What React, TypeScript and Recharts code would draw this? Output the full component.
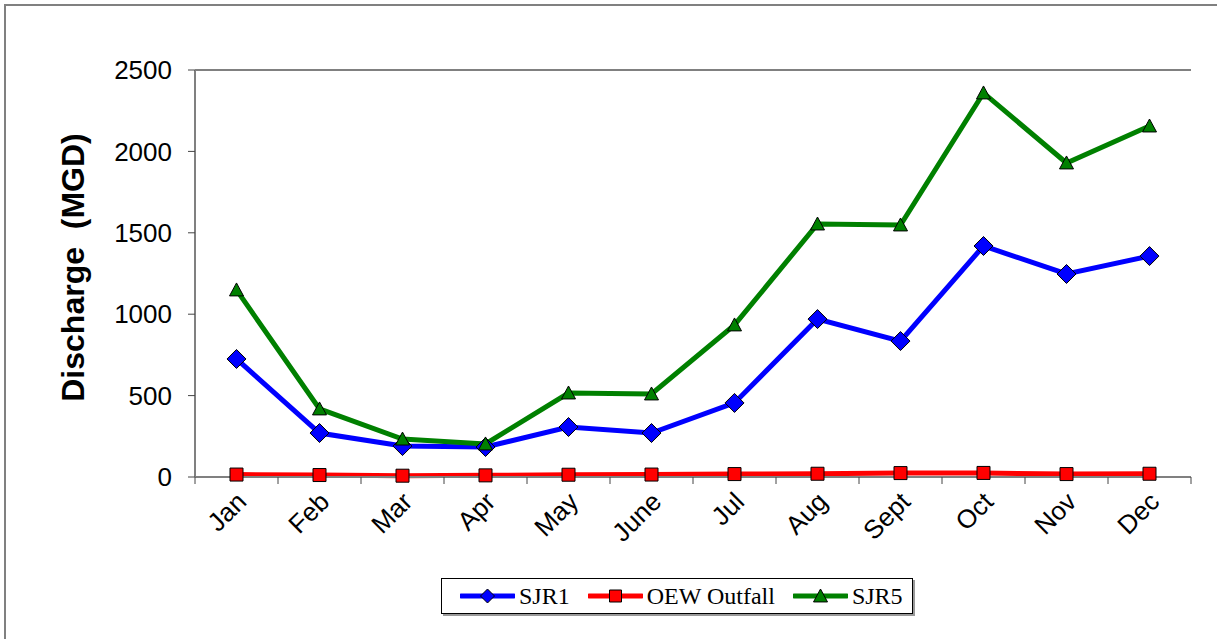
import React from "react";
import { LineChart, Line, XAxis, YAxis, CartesianGrid, ReferenceLine, Legend } from "recharts";

const months = ["Jan", "Feb", "Mar", "Apr", "May", "June", "Jul", "Aug", "Sept", "Oct", "Nov", "Dec"];
const sjr1 = [725, 270, 190, 184, 307, 270, 455, 970, 835, 1419, 1247, 1357];
const oewOutfall = [15, 12, 8, 10, 14, 15, 18, 20, 24, 25, 18, 20];
const sjr5 = [1149, 418, 233, 203, 516, 510, 934, 1554, 1548, 2359, 1929, 2156];
const yTicks = [0, 500, 1000, 1500, 2000, 2500];

const data = months.map((m, i) => ({ month: m, sjr1: sjr1[i], oew: oewOutfall[i], sjr5: sjr5[i] }));

const W = 1217;
const H = 639;
const PLOT_LEFT = 195;
const PLOT_RIGHT = 1191;
const PLOT_TOP = 70;
const PLOT_BOTTOM = 477;
const HALF_BAND = (PLOT_RIGHT - PLOT_LEFT) / months.length / 2;

const BLUE = "#0000FF";
const RED = "#FF0000";
const GREEN = "#008000";
const GRAY = "#808080";
const SANS = "'Liberation Sans', Arial, sans-serif";
const SERIF = "'Liberation Serif', 'Times New Roman', serif";

function diamond(cx: number, cy: number, r: number) {
  return `M${cx},${cy - r}L${cx + r},${cy}L${cx},${cy + r}L${cx - r},${cy}Z`;
}
function square(cx: number, cy: number, r: number) {
  return `M${cx - r},${cy - r}H${cx + r}V${cy + r}H${cx - r}Z`;
}
function triangle(cx: number, cy: number, r: number) {
  return `M${cx},${cy - r}L${cx + r},${cy + r * 0.85}L${cx - r},${cy + r * 0.85}Z`;
}

const DiamondDot = (p: any) => (
  <path key={`d-${p.index}`} d={diamond(p.cx, p.cy, 9.5)} fill={BLUE} stroke="#000" strokeWidth={1} />
);
const SquareDot = (p: any) => (
  <path key={`s-${p.index}`} d={square(p.cx, p.cy, 6.5)} fill={RED} stroke="#000" strokeWidth={1} />
);
const TriangleDot = (p: any) => (
  <path key={`t-${p.index}`} d={triangle(p.cx, p.cy, 7)} fill={GREEN} stroke="#000" strokeWidth={1} />
);

function MonthTick(props: any) {
  const { x, y, payload, index } = props;
  const tx = x + 5;
  const ty = y + 20;
  return (
    <g>
      {index === 0 && <line x1={x - HALF_BAND} x2={x - HALF_BAND} y1={y} y2={y + 7} stroke="#444" />}
      <line x1={x + HALF_BAND} x2={x + HALF_BAND} y1={y} y2={y + 7} stroke="#444" />
      <text
        x={tx}
        y={ty}
        transform={`rotate(-45, ${tx}, ${ty})`}
        textAnchor="end"
        dominantBaseline="central"
        fontFamily={SANS}
        fontSize={26}
        fill="#000"
      >
        {payload.value}
      </text>
    </g>
  );
}

function YTitle(props: any) {
  const vb = props.viewBox || {};
  const cx = 73;
  const cy = (vb.y ?? PLOT_TOP) + (vb.height ?? PLOT_BOTTOM - PLOT_TOP) / 2 - 6;
  return (
    <text
      x={cx}
      y={cy}
      transform={`rotate(-90, ${cx}, ${cy})`}
      textAnchor="middle"
      dominantBaseline="central"
      fontFamily={SANS}
      fontWeight="bold"
      fontSize={32}
      fill="#000"
      style={{ whiteSpace: "pre" }}
    >
      {"Discharge  (MGD)"}
    </text>
  );
}

const legendItems = [
  { label: "SJR1", color: BLUE, shape: "diamond" },
  { label: "OEW Outfall", color: RED, shape: "square" },
  { label: "SJR5", color: GREEN, shape: "triangle" },
];

function LegendBox() {
  return (
    <div
      style={{
        width: 472,
        height: 36,
        boxSizing: "border-box",
        border: "1px solid #000",
        boxShadow: "2px 2px 0 #999",
        background: "#fff",
        display: "flex",
        alignItems: "center",
        paddingLeft: 18,
        whiteSpace: "nowrap",
      }}
    >
      {legendItems.map((it) => (
        <div key={it.label} style={{ display: "flex", alignItems: "center", marginRight: 18, flexShrink: 0 }}>
          <svg width={55} height={24}>
            <line x1={1} x2={54} y1={12} y2={12} stroke={it.color} strokeWidth={5} strokeLinecap="round" />
            {it.shape === "diamond" && <path d={diamond(27.5, 12, 7)} fill={it.color} stroke="#000" />}
            {it.shape === "square" && <path d={square(27.5, 12, 6)} fill={it.color} stroke="#000" />}
            {it.shape === "triangle" && <path d={triangle(27.5, 12, 7)} fill={it.color} stroke="#000" />}
          </svg>
          <span style={{ fontFamily: SERIF, fontSize: 24, marginLeft: 4, lineHeight: "26px" }}>{it.label}</span>
        </div>
      ))}
    </div>
  );
}

export default function App() {
  return (
    <div style={{ position: "absolute", left: 0, top: 0, width: W, height: H, background: "#fff" }}>
      <div
        style={{
          position: "absolute",
          left: 4,
          top: 4,
          right: 0,
          bottom: 0,
          borderLeft: `2px solid ${GRAY}`,
          borderTop: `2px solid ${GRAY}`,
        }}
      />
      <LineChart
        width={W}
        height={H}
        data={data}
        margin={{ top: PLOT_TOP, right: W - PLOT_RIGHT, bottom: 0, left: 0 }}
        style={{ position: "absolute", left: 0, top: 0 }}
      >
        <CartesianGrid vertical={false} horizontalValues={[500, 1000, 1500, 2000]} stroke="#000" strokeWidth={1} />
        <XAxis
          dataKey="month"
          height={H - PLOT_BOTTOM}
          interval={0}
          padding={{ left: HALF_BAND, right: HALF_BAND }}
          tickSize={0}
          tickMargin={0}
          tickLine={false}
          axisLine={{ stroke: GRAY, strokeWidth: 2 }}
          tick={<MonthTick />}
        />
        <YAxis
          yAxisId="left"
          width={PLOT_LEFT}
          domain={[0, 2500]}
          ticks={yTicks}
          interval={0}
          tickSize={7}
          tickMargin={16}
          axisLine={{ stroke: GRAY, strokeWidth: 2 }}
          tickLine={{ stroke: "#444" }}
          tick={{ fill: "#000", fontSize: 26, fontFamily: SANS }}
          label={<YTitle />}
        />
        <YAxis
          yAxisId="right"
          orientation="right"
          width={0}
          domain={[0, 2500]}
          tick={false}
          tickLine={false}
          axisLine={{ stroke: GRAY, strokeWidth: 2 }}
        />
        <ReferenceLine yAxisId="left" y={2500} stroke={GRAY} strokeWidth={2} />
        <Line
          yAxisId="left"
          type="linear"
          dataKey="oew"
          stroke={RED}
          strokeWidth={5}
          dot={SquareDot}
          activeDot={false}
          isAnimationActive={false}
        />
        <Line
          yAxisId="left"
          type="linear"
          dataKey="sjr1"
          stroke={BLUE}
          strokeWidth={5}
          dot={DiamondDot}
          activeDot={false}
          isAnimationActive={false}
        />
        <Line
          yAxisId="left"
          type="linear"
          dataKey="sjr5"
          stroke={GREEN}
          strokeWidth={5}
          dot={TriangleDot}
          activeDot={false}
          isAnimationActive={false}
        />
        <Legend
          layout="horizontal"
          verticalAlign="middle"
          align="center"
          content={() => <LegendBox />}
          wrapperStyle={{ left: 441, top: 578, width: 472, height: 36 }}
        />
      </LineChart>
    </div>
  );
}
